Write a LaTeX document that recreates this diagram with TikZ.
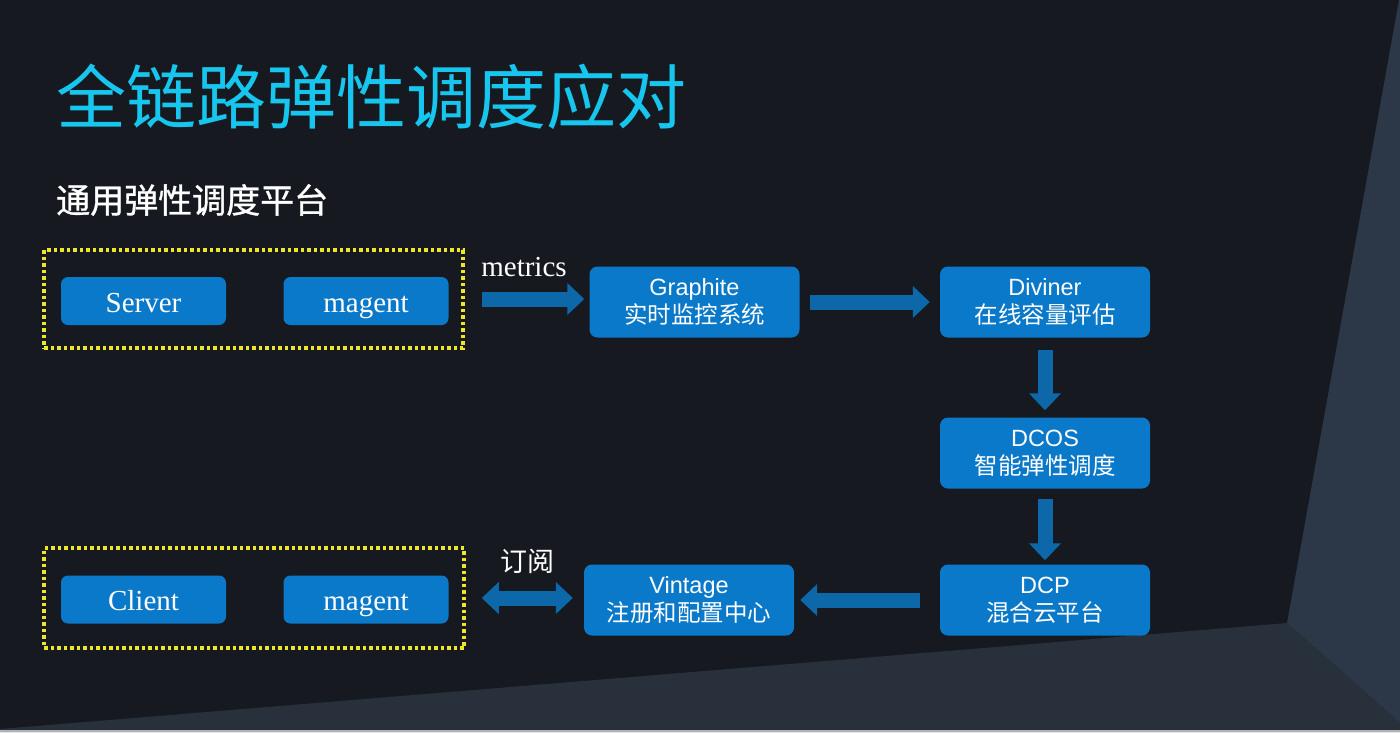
\documentclass[tikz,border=0pt]{standalone}
\usepackage{fontspec}
\setmainfont{Liberation Serif}
\newfontfamily\cjk{Noto Sans CJK SC}
\newfontfamily\cjkb{Noto Sans CJK SC}[FakeBold=1]
\newfontfamily\hv{Liberation Sans}
\usetikzlibrary{arrows.meta,fit}
\definecolor{bgc}{HTML}{16191F}
\definecolor{rightc}{HTML}{2C3848}
\definecolor{botc}{HTML}{28303B}
\definecolor{boxblue}{HTML}{0B79C9}
\definecolor{arrblue}{HTML}{0C68A8}
\definecolor{titlec}{HTML}{17C6EE}
\definecolor{dotyel}{HTML}{EDE62A}
\tikzset{
  sbox/.style={fill=boxblue, rounded corners=7pt, text=white, font=\fontsize{29}{29}\selectfont,
    minimum width=165pt, minimum height=48pt, inner sep=0pt, text height=22pt, text depth=0pt},
  bbox/.style={fill=boxblue, rounded corners=8pt, text=white, align=center,
    minimum width=210pt, minimum height=71pt, inner sep=0pt, font=\fontsize{23.5}{28}\selectfont},
  grp/.style={draw=dotyel, line width=3.5pt, dash pattern=on 3.5pt off 3pt, inner sep=0pt},
  barrow/.style={draw=arrblue, line width=15pt, -{Triangle[width=31pt,length=17pt]}},
  dbarrow/.style={draw=arrblue, line width=15pt, {Triangle[width=31pt,length=17pt]}-{Triangle[width=31pt,length=17pt]}},
  lbl/.style={text=white, inner sep=0pt}
}
\newcommand{\tl}[2]{{\hv #1}\\{\cjk #2}}
\begin{document}
\begin{tikzpicture}[x=1pt,y=-1pt]
\useasboundingbox (0,0) rectangle (1400,732);
\fill[bgc] (0,0) rectangle (1400,732);
\fill[rightc] (1399,0) -- (1400,0) -- (1400,723) -- (1287,623) -- cycle;
\fill[botc] (0,729) -- (1287,623) -- (1400,723) -- (1400,732) -- (0,732) -- cycle;
\fill[gray!60] (0,730) rectangle (1400,732);

\node[anchor=west, text=titlec, font=\cjk\fontsize{70}{70}\selectfont, inner sep=0pt] (title) at (56,97) {全链路弹性调度应对};
\node[anchor=west, text=white, font=\cjkb\fontsize{34}{34}\selectfont, inner sep=0pt] (sub) at (56,200) {通用弹性调度平台};

\node[sbox] (srv) at (143.5,301) {Server};
\node[sbox] (mag1) at (366,301) {magent};
\node[sbox] (cli) at (143.5,599.5) {Client};
\node[sbox] (mag2) at (366,599.5) {magent};

\node[grp, minimum width=419pt, minimum height=98pt] (grp1) at (253.5,299) {};
\node[grp, minimum width=420pt, minimum height=100pt] (grp2) at (254,598) {};

\node[bbox] (gra) at (694.5,302) {\tl{Graphite}{实时监控系统}};
\node[bbox] (div) at (1045,302) {\tl{Diviner}{在线容量评估}};
\node[bbox] (dcos) at (1045,453) {\tl{DCOS}{智能弹性调度}};
\node[bbox] (dcp) at (1045,600) {\tl{DCP}{混合云平台}};
\node[bbox] (vin) at (689,600) {\tl{Vintage}{注册和配置中心}};

\node[lbl, font=\fontsize{29}{29}\selectfont] (met) at (524,267) {metrics};
\node[lbl, font=\cjk\fontsize{27}{27}\selectfont] (sub2) at (527,561) {订阅};

\draw[barrow, shorten <=17pt, shorten >=5pt] (grp1.east) -- (gra.west |- grp1.east);
\draw[barrow, shorten <=10pt, shorten >=10pt] (gra.east) -- (div.west);
\draw[barrow, shorten <=12pt, shorten >=7pt] (div.south) -- (dcos.north);
\draw[barrow, shorten <=10pt, shorten >=4pt] (dcos.south) -- (dcp.north);
\draw[barrow, shorten <=20pt, shorten >=6pt] (dcp.west) -- (vin.east);
\draw[dbarrow, shorten <=16pt, shorten >=11pt] (grp2.east) -- (vin.west |- grp2.east);
\end{tikzpicture}
\end{document}
